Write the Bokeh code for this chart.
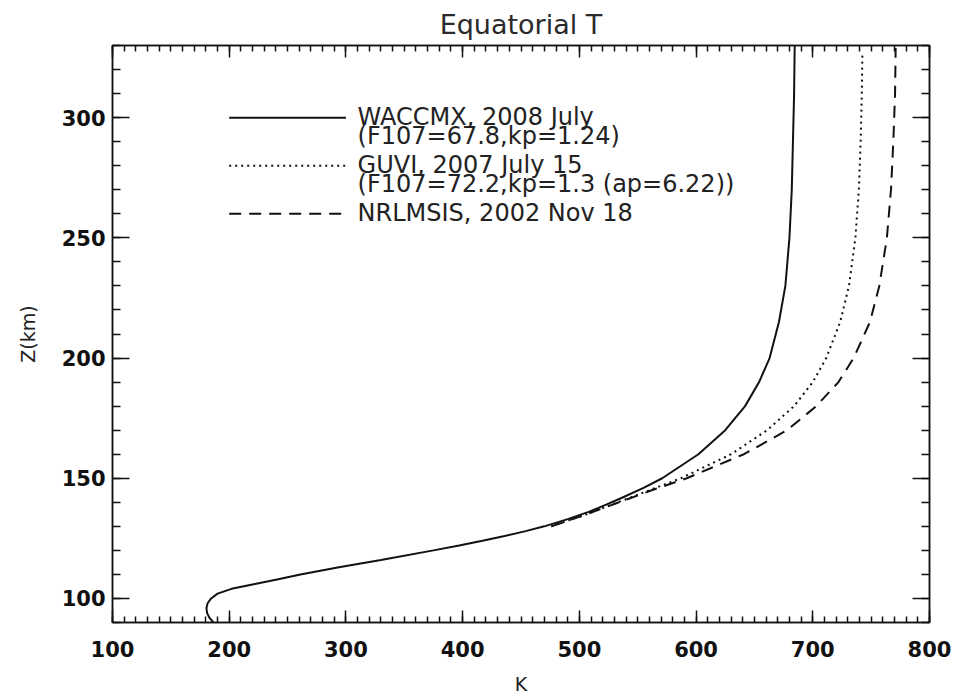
from bokeh.plotting import figure
from bokeh.models import LinearAxis, SingleIntervalTicker, Range1d, CustomJSTickFormatter
from bokeh.embed import file_html
from bokeh.resources import INLINE
from bokeh.core.properties import value

# Equatorial neutral temperature profiles: altitude (km) and temperature (K)
waccmx_z = [90, 92, 94, 96, 98, 100, 102, 104, 106, 108, 110, 113, 116, 120,
            122, 124, 126, 128, 130, 133, 136, 139, 142, 146, 150, 160, 170,
            180, 190, 200, 215, 230, 250, 270, 290, 310, 330]
waccmx_t = [186.5, 183, 181, 180.5, 181.5, 184.5, 190, 202, 222, 242, 261, 294,
            330, 375, 397, 417, 436, 454, 470, 490, 508, 523, 537, 555, 571,
            602, 625, 642, 654, 663, 671, 676.5, 680, 682, 683, 684, 684.5]

guvi_z = [130, 135, 140, 145, 150, 160, 170, 180, 190, 200, 215, 230, 250,
          270, 290, 310, 327]
guvi_t = [476, 506, 533, 560, 587, 630, 661, 684, 700, 711.5, 723.5, 731, 736.5,
          739.5, 741, 742, 742.5]

msis_z = [130, 135, 140, 145, 150, 160, 170, 180, 190, 200, 215, 230, 250,
          270, 290, 310, 329]
msis_t = [476, 506, 534, 562, 592, 641, 678, 703, 722, 735, 749, 757, 763.5,
          767, 769, 770.5, 771]

legend_lines = [
    ["WACCMX, 2008 July", "(F107=67.8,kp=1.24)"],
    ["GUVI, 2007 July 15", "(F107=72.2,kp=1.3 (ap=6.22))"],
    ["NRLMSIS, 2002 Nov 18"],
]
legend_dashes = ["solid", "2 4", "12 8"]

FONT = "DejaVu Sans"
INK = "#111111"

p = figure(width=957, height=697,
           x_range=Range1d(100, 800), y_range=Range1d(90, 330),
           output_backend="svg", toolbar_location=None,
           min_border_left=112, min_border_right=28,
           min_border_top=44, min_border_bottom=72,
           background_fill_color="white", border_fill_color="white")
p.grid.visible = False
p.outline_line_color = INK
p.outline_line_width = 1.5

p.title.text = "Equatorial T"
p.title.align = "center"
p.title.text_font = FONT
p.title.text_font_size = "27px"
p.title.text_font_style = "normal"
p.title.text_color = "#2a2a2a"
p.title.standoff = 12

xt = SingleIntervalTicker(interval=100, num_minor_ticks=10)
yt = SingleIntervalTicker(interval=50, num_minor_ticks=5)


def style_axis(ax, major_len, minor_len, labels=True):
    ax.axis_line_color = INK
    ax.axis_line_width = 1.5
    ax.major_tick_line_color = INK
    ax.minor_tick_line_color = INK
    ax.major_tick_line_width = 1.5
    ax.minor_tick_line_width = 1.5
    ax.major_tick_in = major_len
    ax.major_tick_out = 0
    ax.minor_tick_in = minor_len
    ax.minor_tick_out = 0
    if labels:
        ax.major_label_text_font = FONT
        ax.major_label_text_font_size = "21px"
        ax.major_label_text_font_style = "bold"
        ax.major_label_text_color = INK
        ax.axis_label_text_font = FONT
        ax.axis_label_text_font_size = "19px"
        ax.axis_label_text_font_style = "normal"
        ax.axis_label_text_color = "#222222"
    else:
        # mirrored frame axes: ticks only, no labels
        ax.formatter = CustomJSTickFormatter(code="return ''")
        ax.major_label_standoff = 0


xa = p.xaxis[0]
xa.ticker = xt
xa.axis_label = "K"
style_axis(xa, 12, 6)
xa.major_label_standoff = 18
xa.axis_label_standoff = 13

ya = p.yaxis[0]
ya.ticker = yt
ya.axis_label = "Z(km)"
style_axis(ya, 17, 8)
ya.major_label_standoff = 7
ya.axis_label_standoff = 20

top = LinearAxis(ticker=xt)
style_axis(top, 12, 6, labels=False)
p.add_layout(top, "above")

right = LinearAxis(ticker=yt)
style_axis(right, 17, 8, labels=False)
p.add_layout(right, "right")

# profiles
p.line(waccmx_t, waccmx_z, line_color=INK, line_width=2)
p.line(guvi_t, guvi_z, line_color=INK, line_width=2, line_dash="2 4")
p.line(msis_t, msis_z, line_color=INK, line_width=2, line_dash="12 8")

# legend drawn inside the plot area
leg_x0, leg_x1, leg_tx = 200, 300, 310
leg_y = [300, 280, 260]
for lines, dash, y in zip(legend_lines, legend_dashes, leg_y):
    p.line([leg_x0, leg_x1], [y, y], line_color=INK, line_width=2, line_dash=dash)
    for k, txt in enumerate(lines):
        p.text(x=[leg_tx], y=[y], text=[txt], text_font=value(FONT),
               text_font_size="24px", text_color="#222222",
               text_baseline="middle", text_align="left",
               y_offset=-1 + 19 * k)

open("out.html", "w").write(file_html(p, INLINE))
